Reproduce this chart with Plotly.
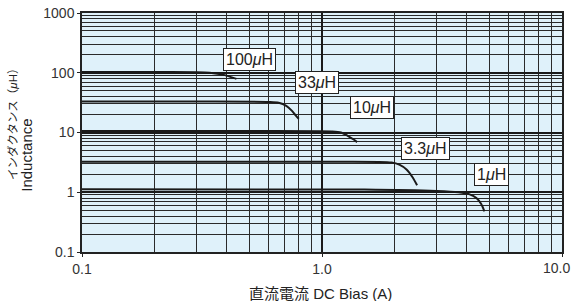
import math
import plotly.graph_objects as go

# ---- data ----
series_names = ["100μH", "33μH", "10μH", "3.3μH", "1μH"]
label_texts = ["100<i>μ</i>H", "33<i>μ</i>H", "10<i>μ</i>H", "3.3<i>μ</i>H", "1<i>μ</i>H"]

i_100 = [0.1, 0.2, 0.3, 0.34, 0.38, 0.41, 0.44]
l_100 = [103, 103, 102, 100, 94, 87, 79]

i_33 = [0.1, 0.3, 0.6, 0.66, 0.71, 0.75, 0.78, 0.80]
l_33 = [33, 33, 32.5, 31.5, 28, 23, 19, 17]

i_10 = [0.1, 0.5, 1.1, 1.2, 1.28, 1.35, 1.40]
l_10 = [10.6, 10.6, 10.4, 10.0, 8.8, 7.7, 6.9]

i_3r3 = [0.1, 1.0, 1.95, 2.1, 2.25, 2.38, 2.49]
l_3r3 = [3.25, 3.25, 3.15, 2.9, 2.4, 1.8, 1.31]

i_1 = [0.1, 1.5, 3.0, 3.7, 4.1, 4.4, 4.6, 4.75]
l_1 = [1.12, 1.11, 1.05, 1.0, 0.93, 0.8, 0.64, 0.48]

# label anchor positions (data coords)
label_x = [0.50, 0.95, 1.62, 2.69, 5.1]
label_y = [165, 70, 26, 5.4, 1.95]

x_tickvals = [0.1, 1, 10]
x_ticktext = ["0.1", "1.0", ""]
x_last_label = "10.0"
y_tickvals = [0.1, 1, 10, 100, 1000]
y_ticktext = ["0.1", "1", "10", "100", "1000"]

x_title = "直流電流 DC Bias (A)"
y_title_jp = "インダクタンス（<i>μ</i>H）"
y_title_en = "Inductance"

FONT = "Liberation Sans, Arial, Noto Sans CJK JP, sans-serif"

fig = go.Figure()
curves = [(i_100, l_100), (i_33, l_33), (i_10, l_10), (i_3r3, l_3r3), (i_1, l_1)]
for name, (xs, ys) in zip(series_names, curves):
    fig.add_trace(go.Scatter(x=xs, y=ys, mode="lines", name=name,
                             line=dict(color="#1a1a1a", width=2, shape="spline", smoothing=0.8),
                             showlegend=False, hoverinfo="skip"))

# annotations on log axes take log10 positions
for txt, lx, ly in zip(label_texts, label_x, label_y):
    fig.add_annotation(x=math.log10(lx), y=math.log10(ly), xref="x", yref="y", text=txt,
                       showarrow=False,
                       font=dict(family=FONT, size=16, color="#222"),
                       bgcolor="white", bordercolor="#222", borderwidth=1, borderpad=2,
                       xanchor="center", yanchor="middle")

# last x tick label, kept inside the page (right-aligned like the reference)
fig.add_annotation(x=1.0208, y=-0.067, xref="paper", yref="paper", text=x_last_label,
                   showarrow=False, font=dict(family=FONT, size=14, color="#333"),
                   xanchor="right", yanchor="middle")

# titles
fig.add_annotation(x=0.496, y=-0.172, xref="paper", yref="paper", text=x_title, showarrow=False,
                   font=dict(family=FONT, size=15, color="#222"), xanchor="center", yanchor="middle")
fig.add_annotation(x=-0.146, y=0.548, xref="paper", yref="paper", text=y_title_jp, showarrow=False,
                   textangle=-90, font=dict(family=FONT, size=11.5, color="#222"),
                   xanchor="center", yanchor="middle")
fig.add_annotation(x=-0.115, y=0.406, xref="paper", yref="paper", text=y_title_en, showarrow=False,
                   textangle=-90, font=dict(family=FONT, size=15, color="#222"),
                   xanchor="center", yanchor="middle")

grid_major = "#1a1a1a"
grid_minor = "#2a2a2a"

fig.update_xaxes(type="log", range=[-1, 1], tickvals=x_tickvals, ticktext=x_ticktext,
                 showgrid=True, gridcolor=grid_major, gridwidth=1.5,
                 minor=dict(dtick="D1", showgrid=True, gridcolor=grid_minor, gridwidth=1, ticks=""),
                 showline=True, linecolor="#222", linewidth=1.5, mirror=True,
                 ticks="outside", ticklen=3, tickcolor="#222",
                 tickfont=dict(family=FONT, size=14, color="#333"), zeroline=False, automargin=False)
fig.update_yaxes(type="log", range=[-1, 3], tickvals=y_tickvals, ticktext=y_ticktext,
                 showgrid=True, gridcolor=grid_major, gridwidth=1.5,
                 minor=dict(dtick="D1", showgrid=True, gridcolor=grid_minor, gridwidth=1, ticks=""),
                 showline=True, linecolor="#222", linewidth=1.5, mirror=True,
                 ticks="outside", ticklen=3, tickcolor="#222", ticklabeloverflow="allow",
                 tickfont=dict(family=FONT, size=14, color="#333"), zeroline=False, automargin=False)

fig.update_layout(width=574, height=301,
                  margin=dict(l=82, r=12, t=13, b=49),
                  paper_bgcolor="white", plot_bgcolor="#dff1fa",
                  font=dict(family=FONT, color="#222"), showlegend=False)

fig.write_html("out.html", config={"displayModeBar": False},
               post_script="document.body.style.margin='0';document.body.style.overflow='hidden';")
